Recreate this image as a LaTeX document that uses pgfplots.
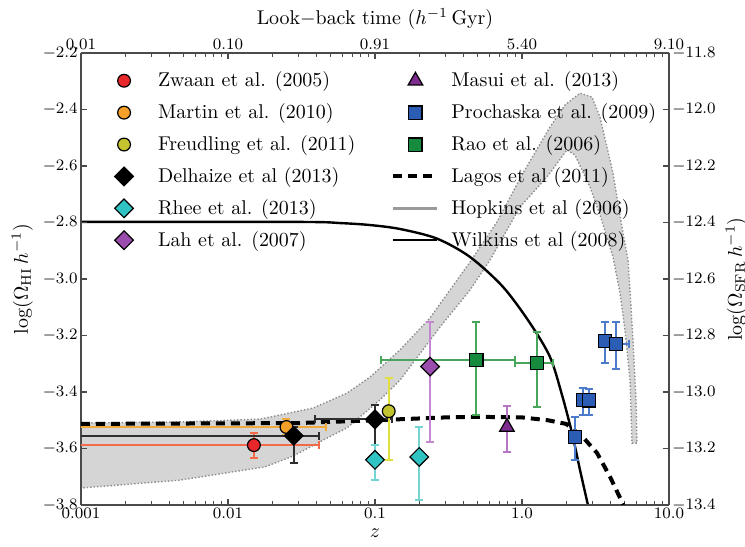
\documentclass[border=0pt]{standalone}
\usepackage{pgfplots}
\pgfplotsset{compat=1.18}

\definecolor{zwaan}{HTML}{E8262B}
\definecolor{zwaanbar}{HTML}{F26A4A}
\definecolor{martin}{HTML}{F5A029}
\definecolor{martinbar}{HTML}{F2AA3A}
\definecolor{freud}{HTML}{C4C42E}
\definecolor{freudbar}{HTML}{E2DE3C}
\definecolor{delh}{HTML}{000000}
\definecolor{delhbar}{HTML}{2E2E2E}
\definecolor{rhee}{HTML}{2FC3C3}
\definecolor{rheebar}{HTML}{74D3D3}
\definecolor{lah}{HTML}{9B4DAD}
\definecolor{lahbar}{HTML}{C388D0}
\definecolor{masui}{HTML}{7E2C90}
\definecolor{masuibar}{HTML}{B676C6}
\definecolor{proch}{HTML}{2A5DB3}
\definecolor{prochbar}{HTML}{4C7BCB}
\definecolor{rao}{HTML}{178B3D}
\definecolor{raobar}{HTML}{48A65A}
\definecolor{axcol}{HTML}{4A4A4A}
\definecolor{band}{HTML}{D5D5D5}
\definecolor{bandedge}{HTML}{8C8C8C}
\definecolor{hopk}{HTML}{9A9A9A}

\pgfplotsset{
  % legend key for a line: 22bp long
  lgl/.style={legend image code/.code={\draw[##1] (0bp,0bp) -- (22bp,0bp);}},
  % legend key for a marker: one mark in a 22bp wide cell
  lgm/.style={legend image code/.code={\path[draw=none, fill=none] (0bp,0bp) -- (22bp,0bp);
      \draw[##1] plot coordinates {(11bp,0bp)};}},
  ebstyle/.style={
     /pgfplots/error bars/error bar style={line width=1bp, color=#1},
     /pgfplots/error bars/error mark options={rotate=90, line width=1bp, mark size=2bp, color=#1}},
  yerrs/.style={/pgfplots/error bars/y dir=both, /pgfplots/error bars/y explicit, ebstyle=#1},
  xyerrs/.style={/pgfplots/error bars/x dir=both, /pgfplots/error bars/x explicit,
     /pgfplots/error bars/y dir=both, /pgfplots/error bars/y explicit, ebstyle=#1},
  pt/.style={only marks, mark options={draw=black, line width=0.6bp, fill=#1}},
  dm/.style={pt=#1, mark=square*, mark size=3.3bp, every mark/.append style={rotate=45}},
  ci/.style={pt=#1, mark=*, mark size=3.2bp},
  sq/.style={pt=#1, mark=square*, mark size=3.3bp},
  tr/.style={pt=#1, mark=triangle*, mark size=4.2bp},
}

\begin{document}
\begin{tikzpicture}

% star-formation-rate axis (top and right): Hopkins band and Wilkins fit
\begin{axis}[
  scale only axis, width=294bp, height=226bp,
  xmode=log, xmin=0.001, xmax=10,
  ymin=-13.4, ymax=-11.8,
  axis x line*=top, axis y line*=right,
  axis line style={color=axcol, line width=1.4bp},
  tick style={color=axcol, line width=0.6bp},
  major tick length=3bp, minor tick length=1.8bp,
  tick align=inside,
  tick label style={font=\footnotesize, inner sep=1.5pt},
  yticklabel style={/pgf/number format/fixed, /pgf/number format/fixed zerofill, /pgf/number format/precision=1},
  xtick={0.001,0.01,0.1,1,10},
  xticklabels={$0.01$,$0.10$,$0.91$,$5.40$,$9.10$},
  minor xtick={},
  ytick={-13.4,-13.2,-13.0,-12.8,-12.6,-12.4,-12.2,-12.0,-11.8},
  xlabel={Look$-$back time ($h^{-1}\,$Gyr)},
  ylabel={$\log(\Omega_{\rm SFR}\,h^{-1})$},
]
% Hopkins et al. (2006) uncertainty band
\addplot[fill=band, draw=bandedge, line width=0.7bp, densely dotted] coordinates {
  (0.001,-13.110) (0.004716,-13.106) (0.01651,-13.096) (0.03787,-13.057)
  (0.0645,-13.004) (0.09247,-12.947) (0.148,-12.851) (0.2366,-12.738)
  (0.443,-12.540) (0.6759,-12.398) (1.016,-12.225) (1.551,-12.062)
  (1.961,-11.984) (2.481,-11.942) (2.994,-11.956) (3.393,-12.027)
  (4.159,-12.225) (4.865,-12.437) (5.262,-12.533) (5.431,-12.639)
  (5.69,-12.816) (5.964,-13.028) (6.058,-13.181)
  (5.603,-13.181) (5.431,-12.958) (5.02,-12.781) (4.642,-12.650)
  (4.159,-12.522) (3.393,-12.373) (2.901,-12.274) (2.293,-12.161)
  (2.023,-12.143) (1.758,-12.186) (1.479,-12.239) (0.9692,-12.345)
  (0.6058,-12.533) (0.443,-12.639) (0.2768,-12.770) (0.148,-12.958)
  (0.1081,-13.028) (0.0645,-13.127) (0.05179,-13.152) (0.02768,-13.227)
  (0.01785,-13.265) (0.004716,-13.312) (0.001,-13.340)
} -- cycle;
% Wilkins et al. (2008)
\addplot[black, line width=1.2bp, smooth, tension=0.5] coordinates {
  (0.001,-12.398) (0.0309,-12.398) (0.0578,-12.402) (0.0925,-12.409)
  (0.148,-12.423) (0.264,-12.457) (0.443,-12.522) (0.743,-12.628)
  (1.133,-12.756) (1.551,-12.876) (1.871,-13.010) (2.2,-13.150) (2.481,-13.276) (2.81,-13.40)
};
\end{axis}

% HI density axis (bottom and left)
\begin{axis}[
  scale only axis, width=294bp, height=226bp,
  xmode=log, xmin=0.001, xmax=10,
  ymin=-3.8, ymax=-2.2,
  axis x line*=bottom, axis y line*=left,
  axis line style={color=axcol, line width=1.4bp},
  tick style={color=axcol, line width=0.6bp},
  major tick length=3bp, minor tick length=1.8bp,
  tick align=inside,
  tick label style={font=\footnotesize, inner sep=1.5pt},
  yticklabel style={/pgf/number format/fixed, /pgf/number format/fixed zerofill, /pgf/number format/precision=1},
  xtick={0.001,0.01,0.1,1,10},
  xticklabels={$0.001$,$0.01$,$0.1$,$1.0$,$10.0$},
  minor xtick={0.002,0.003,0.004,0.005,0.006,0.007,0.008,0.009,
               0.02,0.03,0.04,0.05,0.06,0.07,0.08,0.09,
               0.2,0.3,0.4,0.5,0.6,0.7,0.8,0.9,
               2,3,4,5,6,7,8,9},
  ytick={-3.8,-3.6,-3.4,-3.2,-3.0,-2.8,-2.6,-2.4,-2.2},
  xlabel={$z$},
  ylabel={$\log(\Omega_{\rm HI}\,h^{-1})$},
  legend columns=2,
  legend cell align=left,
  legend style={draw=none, fill=none, font=\normalsize,
    at={(axis description cs:0.025,0.977)}, anchor=north west,
    row sep=3bp,
    /tikz/every odd column/.append style={column sep=4bp},
    /tikz/every even column/.append style={column sep=16bp}},
]
\coordinate (bl) at (rel axis cs:0,0);

% legend keys
\addlegendimage{ci=zwaan, lgm}\addlegendentry{Zwaan et al. (2005)}
\addlegendimage{tr=masui, lgm}\addlegendentry{Masui et al. (2013)}
\addlegendimage{ci=martin, lgm}\addlegendentry{Martin et al. (2010)}
\addlegendimage{sq=proch, lgm}\addlegendentry{Prochaska et al. (2009)}
\addlegendimage{ci=freud, lgm}\addlegendentry{Freudling et al. (2011)}
\addlegendimage{sq=rao, lgm}\addlegendentry{Rao et al. (2006)}
\addlegendimage{dm=delh, lgm}\addlegendentry{Delhaize et al (2013)}
\addlegendimage{black, line width=2bp, dash pattern=on 4.5bp off 3bp, lgl}\addlegendentry{Lagos et al (2011)}
\addlegendimage{dm=rhee, lgm}\addlegendentry{Rhee et al. (2013)}
\addlegendimage{hopk, line width=1.2bp, lgl}\addlegendentry{Hopkins et al (2006)}
\addlegendimage{dm=lah, lgm}\addlegendentry{Lah et al. (2007)}
\addlegendimage{black, line width=1.2bp, lgl}\addlegendentry{Wilkins et al (2008)}

% Lagos et al (2011) model
\addplot[black, line width=2bp, dash pattern=on 4.5bp off 3bp, forget plot] coordinates {
  (0.001,-3.513) (0.03,-3.51) (0.1,-3.50) (0.3,-3.49) (0.52,-3.488)
  (1.0,-3.49) (1.5,-3.50) (2.0,-3.513) (2.6,-3.56) (3.24,-3.616)
  (3.97,-3.70) (4.9,-3.80)
};

% Zwaan et al. (2005)
\addplot[forget plot, ci=zwaan, xyerrs=zwaanbar] coordinates {
  (0.015,-3.588) += (0.0266,0.043) -= (0.0145,0.046)
};
% Martin et al. (2010)
\addplot[forget plot, ci=martin, xyerrs=martinbar] coordinates {
  (0.025,-3.524) += (0.0214,0.028) -= (0.0245,0.028)
};
% Delhaize et al (2013)
\addplot[forget plot, dm=delh, xyerrs=delhbar] coordinates {
  (0.028,-3.555) += (0.0136,0.03) -= (0.0275,0.095)
  (0.1,-3.497) += (0.03,0.05) -= (0.061,0.09)
};
% Freudling et al. (2011)
\addplot[forget plot, ci=freud, yerrs=freudbar] coordinates {
  (0.124,-3.468) += (0,0.118) -= (0,0.173)
};
% Rhee et al. (2013)
\addplot[forget plot, dm=rhee, yerrs=rheebar] coordinates {
  (0.1,-3.64) += (0,0.052) -= (0,0.072)
  (0.2,-3.63) += (0,0.106) -= (0,0.152)
};
% Lah et al. (2007)
\addplot[forget plot, dm=lah, yerrs=lahbar] coordinates {
  (0.237,-3.31) += (0,0.158) -= (0,0.267)
};
% Rao et al. (2006)
\addplot[forget plot, sq=rao, xyerrs=raobar] coordinates {
  (0.49,-3.287) += (0.40,0.135) -= (0.38,0.194)
  (1.26,-3.298) += (0.37,0.11) -= (0.36,0.155)
};
% Masui et al. (2013)
\addplot[forget plot, tr=masui, yerrs=masuibar] coordinates {
  (0.79,-3.524) += (0,0.074) -= (0,0.088)
};
% Prochaska et al. (2009)
\addplot[forget plot, sq=proch, yerrs=prochbar] coordinates {
  (2.3,-3.559) += (0,0.071) -= (0,0.082)
  (2.6,-3.428) += (0,0.042) -= (0,0.053)
  (2.86,-3.43) += (0,0.042) -= (0,0.053)
  (3.67,-3.219) += (0,0.067) -= (0,0.078)
};
\addplot[forget plot, sq=proch, xyerrs=prochbar] coordinates {
  (4.36,-3.23) += (0.99,0.078) -= (0.5,0.089)
};
\end{axis}

\pgfresetboundingbox
\path (bl) ++(-40.5bp,-21bp) rectangle ++(372.5bp,273.5bp);
\end{tikzpicture}
\end{document}
